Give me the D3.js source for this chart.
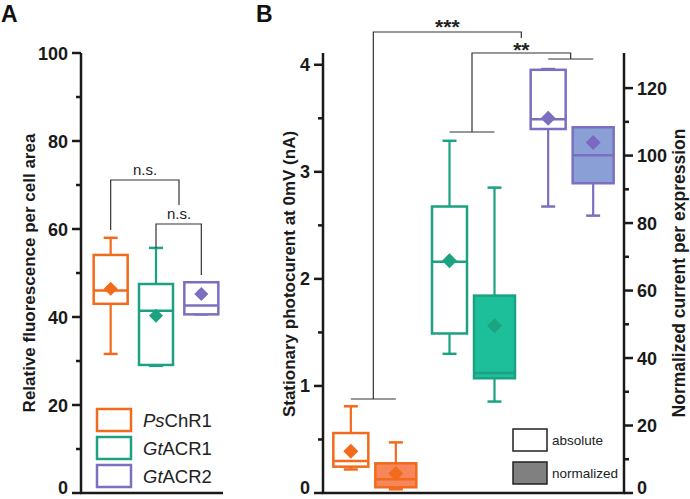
<!DOCTYPE html>
<html><head><meta charset="utf-8">
<script src="https://cdn.jsdelivr.net/npm/d3@7"></script>
<style>
body{margin:0;background:#fff;}
svg{display:block;font-family:"Liberation Sans",Arial,sans-serif;}
</style></head>
<body><svg id="c" width="690" height="499"></svg>
<script>
// ---------- DATA ----------
const constructs = ["PsChR1", "GtACR1", "GtACR2"];
const italicPart = ["Ps", "Gt", "Gt"];
const restPart = ["ChR1", "ACR1", "ACR2"];
const colors = ["#f26a1b", "#1ca283", "#7b6fc0"];
const fills = ["#f7875a", "#1dbf9b", "#8a9fd6"];
const diamondNorm = ["#f26a1b", "#1aa57f", "#7b68c0"];

// panel A: [whiskerLow, q1, median, q3, whiskerHigh]
const fluorBox = [[31.6, 43.0, 46.0, 54.1, 58.0], [28.9, 29.1, 41.4, 47.5, 55.7], [40.6, 40.6, 42.6, 47.9, 47.9]];
const fluorMean = [46.4, 40.3, 45.2];
const ticksA = [0, 20, 40, 60, 80, 100];

// panel B absolute (nA)
const absBox = [[0.22, 0.246, 0.30, 0.56, 0.81], [1.30, 1.49, 2.16, 2.676, 3.29], [2.676, 3.40, 3.49, 3.953, 3.96]];
const absMean = [0.39, 2.17, 3.50];
// panel B normalized
const normBox = [[1.1, 1.7, 4.06, 8.8, 15.0], [27.1, 34.0, 35.6, 58.5, 90.5], [82.2, 91.8, 100.1, 108.4, 108.4]];
const normMean = [5.8, 49.6, 103.9];
const ticksBL = [0, 1, 2, 3, 4];
const ticksBR = [0, 20, 40, 60, 80, 100, 120];

const svg = d3.select("#c");
const axisCol = "#1a1a1a";

// ---------- helpers ----------
function drawAxis(g, scale, ticks, minor, side, x) {
  const ax = g.append("g").attr("transform", `translate(${x},0)`);
  const [r0, r1] = scale.range();
  ax.append("line").attr("x1", 0).attr("x2", 0).attr("y1", r0 + 1).attr("y2", r1)
    .attr("stroke", axisCol).attr("stroke-width", 2.5);
  const dir = side === "left" ? -1 : 1;
  minor.forEach(v => ax.append("line").attr("x1", 0).attr("x2", dir * 5)
    .attr("y1", scale(v)).attr("y2", scale(v)).attr("stroke", axisCol).attr("stroke-width", 2.5));
  ticks.forEach(v => {
    ax.append("line").attr("x1", 0).attr("x2", dir * 9)
      .attr("y1", scale(v)).attr("y2", scale(v)).attr("stroke", axisCol).attr("stroke-width", 2.5);
    ax.append("text").attr("x", dir * 13).attr("y", Math.min(scale(v) + 6.5, 494))
      .attr("text-anchor", side === "left" ? "end" : "start")
      .attr("font-size", 18).attr("font-weight", "bold").attr("fill", axisCol).text(v);
  });
}
function drawBox(g, scale, cx, w, st, mean, stroke, fill, dcol, dsize, sw) {
  const capW = 14;
  const [lo, q1, md, q3, hi] = st;
  g.append("line").attr("x1", cx).attr("x2", cx).attr("y1", scale(q3)).attr("y2", scale(hi))
    .attr("stroke", stroke).attr("stroke-width", 2.2);
  g.append("line").attr("x1", cx).attr("x2", cx).attr("y1", scale(q1)).attr("y2", scale(lo))
    .attr("stroke", stroke).attr("stroke-width", 2.2);
  [lo, hi].forEach(v => g.append("line").attr("x1", cx - capW / 2).attr("x2", cx + capW / 2)
    .attr("y1", scale(v)).attr("y2", scale(v)).attr("stroke", stroke).attr("stroke-width", 2.5));
  g.append("rect").attr("x", cx - w / 2).attr("y", scale(q3)).attr("width", w)
    .attr("height", scale(q1) - scale(q3)).attr("fill", fill).attr("stroke", stroke).attr("stroke-width", sw);
  g.append("line").attr("x1", cx - w / 2).attr("x2", cx + w / 2).attr("y1", scale(md)).attr("y2", scale(md))
    .attr("stroke", stroke).attr("stroke-width", 2.5);
  const my = scale(mean);
  g.append("path").attr("d", `M${cx},${my - dsize}L${cx + dsize},${my}L${cx},${my + dsize}L${cx - dsize},${my}Z`)
    .attr("fill", dcol);
}
function bracketLine(pts) {
  svg.append("path").attr("d", d3.line()(pts)).attr("fill", "none")
    .attr("stroke", "#333").attr("stroke-width", 1.2);
}

// ---------- PANEL A ----------
const yA = d3.scaleLinear().domain([0, 100]).range([493, 53]);
const xA = d3.scaleBand().domain(constructs).range([88, 224]).padding(0);
const gA = svg.append("g");
drawAxis(gA, yA, ticksA, [10, 30, 50, 70, 90], "left", 81);
gA.append("line").attr("x1", 80).attr("x2", 223).attr("y1", 493).attr("y2", 493)
  .attr("stroke", axisCol).attr("stroke-width", 2.5);
constructs.forEach((c, i) => {
  const cx = xA(c) + xA.bandwidth() / 2;
  drawBox(gA, yA, cx, 34, fluorBox[i], fluorMean[i], colors[i], "#fff", colors[i], 7, 2.5);
});
gA.append("text").attr("transform", "translate(35,273) rotate(-90)").attr("text-anchor", "middle")
  .attr("font-size", 17).attr("font-weight", "bold").attr("fill", axisCol)
  .text("Relative fluorescence per cell area");

// legend A
constructs.forEach((c, i) => {
  const ly = [409, 437, 465][i];
  gA.append("rect").attr("x", 97).attr("y", ly).attr("width", 34).attr("height", 22)
    .attr("fill", "#fff").attr("stroke", colors[i]).attr("stroke-width", 2.5);
  const t = gA.append("text").attr("x", 143).attr("y", ly + 17.5).attr("font-size", 18.5).attr("fill", "#222");
  t.append("tspan").attr("font-style", "italic").text(italicPart[i]);
  t.append("tspan").text(restPart[i]);
});

// A brackets
const cxA = c => xA(c) + xA.bandwidth() / 2;
bracketLine([[cxA("PsChR1"), 230], [cxA("PsChR1"), 180], [179, 180], [179, 205]]);
bracketLine([[cxA("GtACR1"), 248], [cxA("GtACR1"), 224], [cxA("GtACR2"), 224], [cxA("GtACR2"), 275]]);
svg.append("text").attr("x", 145).attr("y", 175).attr("text-anchor", "middle").attr("font-size", 15).attr("fill", "#222").text("n.s.");
svg.append("text").attr("x", 179).attr("y", 219).attr("text-anchor", "middle").attr("font-size", 15).attr("fill", "#222").text("n.s.");

// ---------- PANEL B ----------
const yBL = d3.scaleLinear().domain([0, 4.11]).range([493, 53]);
const yBR = d3.scaleLinear().domain([0, 130.4]).range([493, 53]);
const xB = d3.scaleBand().domain(constructs).range([324, 620]).padding(0);
const gB = svg.append("g");
drawAxis(gB, yBL, ticksBL, [0.5, 1.5, 2.5, 3.5], "left", 323);
drawAxis(gB, yBR, ticksBR, [10, 30, 50, 70, 90, 110], "right", 624);
gB.append("line").attr("x1", 322).attr("x2", 625).attr("y1", 493).attr("y2", 493)
  .attr("stroke", axisCol).attr("stroke-width", 2.5);
const cB = c => xB(c) + xB.bandwidth() / 2;
constructs.forEach((c, i) => {
  drawBox(gB, yBL, cB(c) - 22.5, 35, absBox[i], absMean[i], colors[i], "#fff", colors[i], 7.5, 2.5);
  drawBox(gB, yBR, cB(c) + 22.5, 41, normBox[i], normMean[i], colors[i], fills[i], diamondNorm[i], 7.5, 2.5);
});
gB.append("text").attr("transform", "translate(295,274) rotate(-90)").attr("text-anchor", "middle")
  .attr("font-size", 17).attr("font-weight", "bold").attr("fill", axisCol)
  .text("Stationary photocurent at 0mV (nA)");
gB.append("text").attr("transform", "translate(685,273) rotate(-90)").attr("text-anchor", "middle")
  .attr("font-size", 17.5).attr("font-weight", "bold").attr("fill", axisCol)
  .text("Normalized current per expression");

// legend B
[["absolute", "#fff", 429], ["normalized", "#808080", 462]].forEach(([lab, f, ly]) => {
  gB.append("rect").attr("x", 513).attr("y", ly).attr("width", 34).attr("height", 22)
    .attr("fill", f).attr("stroke", "#222").attr("stroke-width", 1.5);
  gB.append("text").attr("x", 552).attr("y", ly + 16).attr("font-size", 13.5).attr("fill", "#222").text(lab);
});

// B brackets
const psL = cB("PsChR1") - 22.5, psR = cB("PsChR1") + 22.5;
const g1L = cB("GtACR1") - 22.5, g1R = cB("GtACR1") + 22.5;
const g2L = cB("GtACR2") - 22.5, g2R = cB("GtACR2") + 22.5;
const psM = (psL + psR) / 2, g1M = (g1L + g1R) / 2, g2M = (g2L + g2R) / 2;
const ssM = (g1M + g2M) / 2;
bracketLine([[psL, 399], [psR, 399]]);
bracketLine([[g1L, 132], [g1R, 132]]);
bracketLine([[g2L, 59], [g2R, 59]]);
bracketLine([[psM, 399], [psM, 32], [ssM, 32], [ssM, 38]]);
bracketLine([[g1M, 132], [g1M, 53], [g2M, 53], [g2M, 59]]);
svg.append("text").attr("x", (psM + ssM) / 2).attr("y", 34).attr("text-anchor", "middle")
  .attr("font-size", 21).attr("font-weight", "bold").attr("fill", "#222").text("***");
svg.append("text").attr("x", ssM).attr("y", 57).attr("text-anchor", "middle")
  .attr("font-size", 21).attr("font-weight", "bold").attr("fill", "#222").text("**");

// panel labels
svg.append("text").attr("x", 1).attr("y", 22).attr("font-size", 23).attr("font-weight", "bold").attr("fill", "#111").text("A");
svg.append("text").attr("x", 256).attr("y", 22).attr("font-size", 23).attr("font-weight", "bold").attr("fill", "#111").text("B");
</script></body></html>
